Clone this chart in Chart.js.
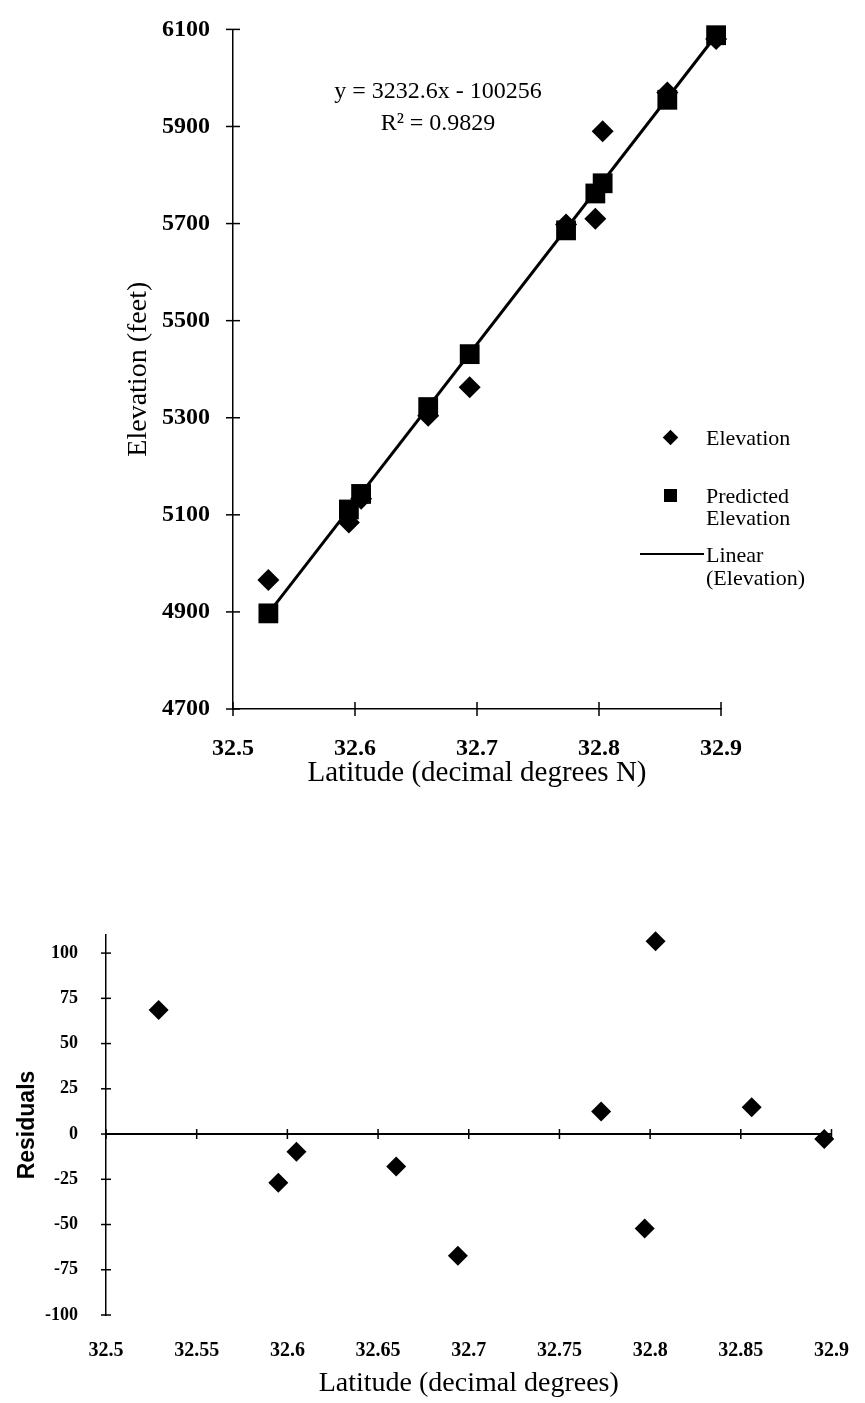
<!DOCTYPE html>
<html>
<head>
<meta charset="utf-8">
<script src="https://cdn.jsdelivr.net/npm/chart.js@4.4.1/dist/chart.umd.min.js"></script>
<style>
  body { margin: 0; background: #fff; }
  #page { position: relative; width: 865px; height: 1403px; background: #fff; font-family: 'Liberation Serif', serif; color: #000; }
  canvas { position: absolute; left: 0; }
  .txt { position: absolute; white-space: nowrap; }
</style>
</head>
<body>
<div id="page">
  <canvas id="top" width="865" height="800" style="top:0"></canvas>
  <canvas id="bottom" width="865" height="523" style="top:880px"></canvas>

  <!-- trendline equation -->
  <div class="txt" style="left:300px; top:74px; width:276px; text-align:center; font-size:24px; line-height:32px;">
    y = 3232.6x - 100256<br>R² = 0.9829
  </div>

  <!-- legend of the top chart -->
  <div style="position:absolute; left:665px; top:432px; width:11px; height:11px; background:#000; transform:rotate(45deg);"></div>
  <div class="txt" style="left:706px; top:427px; font-size:22px; line-height:22px;">Elevation</div>
  <div style="position:absolute; left:664px; top:489px; width:13px; height:13px; background:#000;"></div>
  <div class="txt" style="left:706px; top:485px; font-size:22px; line-height:22px;">Predicted<br>Elevation</div>
  <div style="position:absolute; left:640px; top:553px; width:64px; height:2px; background:#000;"></div>
  <div class="txt" style="left:706px; top:543px; font-size:22px; line-height:23px;">Linear<br>(Elevation)</div>
</div>
<script>
// latitude of each station (decimal degrees N)
const latitude  = [32.529, 32.595, 32.605, 32.660, 32.694, 32.773, 32.797, 32.803, 32.856, 32.896];
// measured elevation (feet)
const elevation = [4966, 5084, 5133, 5304, 5363, 5698, 5710, 5890, 5970, 6080];
// elevation predicted by the regression (feet)
const predicted = [4897, 5111, 5143, 5322, 5431, 5686, 5762, 5783, 5955, 6088];
// residuals (feet)
const residuals = [68.5, -26.9, -9.8, -18.0, -67.2, 12.4, -52.2, 106.5, 14.8, -2.8];
// ends of the linear trendline
const trendLat  = [32.529, 32.896];
const trendElev = [4897, 6088];

const toPoints = (xs, ys) => xs.map((x, i) => ({x: x, y: ys[i]}));
const fmt = v => String(+Number(v).toFixed(2));

Chart.defaults.color = '#000';
Chart.defaults.animation = false;

// small tick marks that cross the axis lines
const crossTicks = {
  id: 'crossTicks',
  afterDatasetsDraw(chart, args, opts) {
    const ctx = chart.ctx;
    const xs = chart.scales.x, ys = chart.scales.y;
    const yLine = ys.getPixelForValue(opts.xAt);
    const xLine = xs.getPixelForValue(xs.min);
    ctx.save();
    ctx.strokeStyle = '#000';
    ctx.lineWidth = opts.width;
    xs.ticks.forEach(t => {
      const p = xs.getPixelForValue(t.value);
      ctx.beginPath(); ctx.moveTo(p, yLine - opts.len); ctx.lineTo(p, yLine + opts.len); ctx.stroke();
    });
    ys.ticks.forEach(t => {
      const p = ys.getPixelForValue(t.value);
      ctx.beginPath(); ctx.moveTo(xLine - opts.len, p); ctx.lineTo(xLine + opts.len, p); ctx.stroke();
    });
    ctx.restore();
  }
};

new Chart(document.getElementById('top'), {
  type: 'scatter',
  data: {
    datasets: [
      {
        label: 'Elevation',
        data: toPoints(latitude, elevation),
        pointStyle: 'rectRot', pointRadius: 11,
        backgroundColor: '#000', borderWidth: 0, clip: false
      },
      {
        label: 'Predicted Elevation',
        data: toPoints(latitude, predicted),
        pointStyle: 'rect', pointRadius: 14,
        backgroundColor: '#000', borderWidth: 0, clip: false
      },
      {
        label: 'Linear (Elevation)',
        data: toPoints(trendLat, trendElev),
        showLine: true, pointRadius: 0,
        borderColor: '#000', borderWidth: 3, clip: false
      }
    ]
  },
  options: {
    responsive: false,
    layout: { padding: { left: 122, top: 22, right: 144, bottom: 0 } },
    plugins: {
      legend: { display: false },
      tooltip: { enabled: false },
      crossTicks: { len: 7, width: 1.5, xAt: 4700 }
    },
    scales: {
      x: {
        min: 32.5, max: 32.9,
        afterFit: s => { s.height = 91; },
        grid: { display: false },
        border: { display: true, color: '#000', width: 1.5 },
        ticks: { stepSize: 0.1, padding: 17, callback: fmt,
                 font: { family: 'Liberation Serif', size: 24, weight: 'bold' } },
        title: { display: true, text: 'Latitude (decimal degrees N)', padding: { top: 0, bottom: 9 },
                 font: { family: 'Liberation Serif', size: 29 } }
      },
      y: {
        min: 4700, max: 6100,
        afterFit: s => { s.width = 111; },
        grid: { display: false },
        border: { display: true, color: '#000', width: 1.5 },
        ticks: { stepSize: 200, padding: 15, callback: fmt,
                 font: { family: 'Liberation Serif', size: 24, weight: 'bold' } },
        title: { display: true, text: 'Elevation (feet)', padding: { top: 0, bottom: 0 },
                 font: { family: 'Liberation Serif', size: 28 } }
      }
    }
  },
  plugins: [crossTicks]
});

new Chart(document.getElementById('bottom'), {
  type: 'scatter',
  data: {
    datasets: [
      {
        label: 'Residuals',
        data: toPoints(latitude, residuals),
        pointStyle: 'rectRot', pointRadius: 10,
        backgroundColor: '#000', borderWidth: 0, clip: false
      }
    ]
  },
  options: {
    responsive: false,
    layout: { padding: { left: 14, top: 55, right: 24, bottom: 0 } },
    plugins: {
      legend: { display: false },
      tooltip: { enabled: false },
      crossTicks: { len: 5, width: 1.5, xAt: 0 }
    },
    scales: {
      x: {
        min: 32.5, max: 32.9,
        afterFit: s => { s.height = 88; },
        grid: { display: false },
        border: { display: false },
        ticks: { stepSize: 0.05, padding: 16, callback: fmt,
                 font: { family: 'Liberation Serif', size: 20, weight: 'bold' } },
        title: { display: true, text: 'Latitude (decimal degrees)', padding: { top: 0, bottom: 3 },
                 font: { family: 'Liberation Serif', size: 28 } }
      },
      x0: {
        type: 'linear',
        position: { y: 0 },
        min: 32.5, max: 32.9,
        grid: { display: false },
        border: { display: true, color: '#000', width: 2 },
        ticks: { display: false }
      },
      y: {
        min: -100, max: 110,
        afterFit: s => { s.width = 92; },
        grid: { display: false },
        border: { display: true, color: '#000', width: 1.5 },
        ticks: { stepSize: 25, includeBounds: false, padding: 20, callback: fmt,
                 font: { family: 'Liberation Serif', size: 18, weight: 'bold' } },
        title: { display: true, text: 'Residuals', padding: { top: 0, bottom: 0 },
                 font: { family: 'Liberation Sans', size: 23, weight: 'bold' } }
      }
    }
  },
  plugins: [crossTicks]
});
</script>
</body>
</html>
